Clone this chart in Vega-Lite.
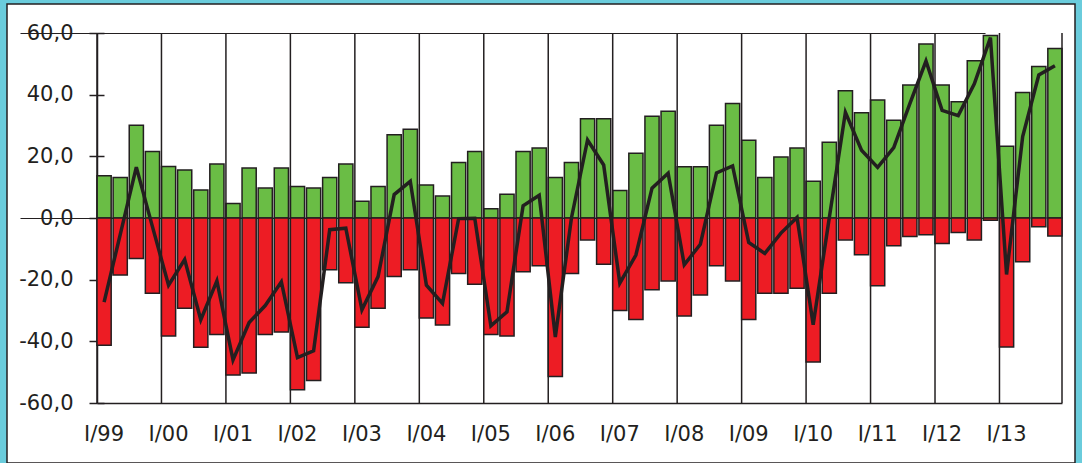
{
  "$schema": "https://vega.github.io/schema/vega-lite/v6.json",
  "width": 1068,
  "height": 459,
  "autosize": {"type": "none"},
  "padding": {"left": 7, "top": 4, "right": 7, "bottom": 0},
  "background": "#6accdc",
  "config": {
    "view": {"fill": "white", "stroke": "#231f20", "strokeWidth": 1.5},
    "axis": {
      "labelFont": "DejaVu Sans",
      "labelFontSize": 21,
      "labelColor": "#231f20",
      "domainColor": "#231f20",
      "domainWidth": 1.5,
      "tickColor": "#231f20",
      "tickWidth": 1.5
    }
  },
  "resolve": {"axis": {"x": "independent", "y": "independent"}},
  "data": {
    "values": [
      {"quarter": "I/99", "positive": 13.7, "negative": -41.3, "balance": -27.3},
      {"quarter": "II/99", "positive": 13.1, "negative": -18.5, "balance": -5.4},
      {"quarter": "III/99", "positive": 30.1, "negative": -13.1, "balance": 16.5},
      {"quarter": "IV/99", "positive": 21.6, "negative": -24.4, "balance": -2.8},
      {"quarter": "I/00", "positive": 16.7, "negative": -38.3, "balance": -21.8},
      {"quarter": "II/00", "positive": 15.6, "negative": -29.3, "balance": -13.5},
      {"quarter": "III/00", "positive": 9.1, "negative": -41.9, "balance": -33.0},
      {"quarter": "IV/00", "positive": 17.5, "negative": -37.8, "balance": -20.4},
      {"quarter": "I/01", "positive": 4.7, "negative": -50.9, "balance": -46.0},
      {"quarter": "II/01", "positive": 16.2, "negative": -50.3, "balance": -33.9},
      {"quarter": "III/01", "positive": 9.7, "negative": -37.8, "balance": -28.4},
      {"quarter": "IV/01", "positive": 16.2, "negative": -37.0, "balance": -20.7},
      {"quarter": "I/02", "positive": 10.2, "negative": -55.7, "balance": -45.3},
      {"quarter": "II/02", "positive": 9.7, "negative": -52.7, "balance": -43.1},
      {"quarter": "III/02", "positive": 13.1, "negative": -16.8, "balance": -3.8},
      {"quarter": "IV/02", "positive": 17.5, "negative": -21.0, "balance": -3.3},
      {"quarter": "I/03", "positive": 5.4, "negative": -35.4, "balance": -29.8},
      {"quarter": "II/03", "positive": 10.2, "negative": -29.3, "balance": -19.0},
      {"quarter": "III/03", "positive": 27.0, "negative": -19.0, "balance": 7.6},
      {"quarter": "IV/03", "positive": 28.8, "negative": -16.8, "balance": 11.9},
      {"quarter": "I/04", "positive": 10.7, "negative": -32.4, "balance": -21.8},
      {"quarter": "II/04", "positive": 7.1, "negative": -34.7, "balance": -27.7},
      {"quarter": "III/04", "positive": 18.0, "negative": -18.0, "balance": -0.2},
      {"quarter": "IV/04", "positive": 21.6, "negative": -21.5, "balance": -0.1},
      {"quarter": "I/05", "positive": 3.0, "negative": -37.8, "balance": -35.0},
      {"quarter": "II/05", "positive": 7.7, "negative": -38.3, "balance": -30.4},
      {"quarter": "III/05", "positive": 21.6, "negative": -17.4, "balance": 4.0},
      {"quarter": "IV/05", "positive": 22.7, "negative": -15.5, "balance": 7.4},
      {"quarter": "I/06", "positive": 13.1, "negative": -51.4, "balance": -38.6},
      {"quarter": "II/06", "positive": 18.0, "negative": -18.0, "balance": 0.0},
      {"quarter": "III/06", "positive": 32.2, "negative": -7.1, "balance": 25.3},
      {"quarter": "IV/06", "positive": 32.2, "negative": -15.0, "balance": 17.2},
      {"quarter": "I/07", "positive": 8.9, "negative": -30.0, "balance": -21.1},
      {"quarter": "II/07", "positive": 21.0, "negative": -32.9, "balance": -12.0},
      {"quarter": "III/07", "positive": 33.0, "negative": -23.3, "balance": 9.7},
      {"quarter": "IV/07", "positive": 34.6, "negative": -20.4, "balance": 14.5},
      {"quarter": "I/08", "positive": 16.6, "negative": -31.8, "balance": -15.2},
      {"quarter": "II/08", "positive": 16.6, "negative": -25.0, "balance": -8.5},
      {"quarter": "III/08", "positive": 30.1, "negative": -15.5, "balance": 14.6},
      {"quarter": "IV/08", "positive": 37.1, "negative": -20.4, "balance": 16.9},
      {"quarter": "I/09", "positive": 25.2, "negative": -32.9, "balance": -7.9},
      {"quarter": "II/09", "positive": 13.1, "negative": -24.4, "balance": -11.5},
      {"quarter": "III/09", "positive": 19.8, "negative": -24.4, "balance": -4.9},
      {"quarter": "IV/09", "positive": 22.7, "negative": -22.8, "balance": 0.2},
      {"quarter": "I/10", "positive": 11.9, "negative": -46.7, "balance": -34.6},
      {"quarter": "II/10", "positive": 24.6, "negative": -24.4, "balance": 0.1},
      {"quarter": "III/10", "positive": 41.3, "negative": -7.1, "balance": 34.3},
      {"quarter": "IV/10", "positive": 34.1, "negative": -11.9, "balance": 22.0},
      {"quarter": "I/11", "positive": 38.3, "negative": -22.0, "balance": 16.4},
      {"quarter": "II/11", "positive": 31.7, "negative": -9.0, "balance": 22.8},
      {"quarter": "III/11", "positive": 43.1, "negative": -6.0, "balance": 37.1},
      {"quarter": "IV/11", "positive": 56.4, "negative": -5.4, "balance": 50.9},
      {"quarter": "I/12", "positive": 43.1, "negative": -8.3, "balance": 34.9},
      {"quarter": "II/12", "positive": 37.7, "negative": -4.7, "balance": 33.2},
      {"quarter": "III/12", "positive": 51.0, "negative": -7.1, "balance": 43.5},
      {"quarter": "IV/12", "positive": 59.2, "negative": -0.7, "balance": 58.5},
      {"quarter": "I/13", "positive": 23.3, "negative": -41.8, "balance": -18.3},
      {"quarter": "II/13", "positive": 40.7, "negative": -14.2, "balance": 26.4},
      {"quarter": "III/13", "positive": 49.1, "negative": -2.8, "balance": 46.4},
      {"quarter": "IV/13", "positive": 55.0, "negative": -5.8, "balance": 49.4}
    ]
  },
  "layer": [
    {
      "mark": {"type": "bar", "fill": "#6abd45", "stroke": "#231f20", "strokeWidth": 1.5},
      "encoding": {
        "x": {
          "field": "quarter",
          "type": "ordinal",
          "sort": null,
          "title": null,
          "scale": {"range": [90, 1055], "paddingInner": 0.12, "paddingOuter": 0},
          "axis": {
            "orient": "bottom",
            "offset": -60,
            "values": ["I/99", "I/00", "I/01", "I/02", "I/03", "I/04", "I/05", "I/06", "I/07", "I/08", "I/09", "I/10", "I/11", "I/12", "I/13"],
            "labelOffset": 0,
            "labelAngle": 0,
            "labelPadding": 20,
            "ticks": false,
            "grid": false
          }
        },
        "y": {
          "field": "positive",
          "type": "quantitative",
          "title": null,
          "scale": {"domain": [-60, 60], "nice": false, "range": [399, 29]},
          "axis": {
            "orient": "left",
            "offset": -90,
            "values": [-60, -40, -20, 0, 20, 40, 60],
            "labelExpr": "replace(replace(format(datum.value, '.1f'), '.', ','), '\u2212', '-')",
            "tickSize": 8,
            "labelPadding": 16,
            "grid": false
          }
        }
      }
    },
    {
      "transform": [{"filter": "indexof(datum.quarter, 'I/') === 0"}],
      "mark": {"type": "rule", "stroke": "#231f20", "strokeWidth": 1.5},
      "encoding": {
        "x": {"field": "quarter", "type": "ordinal", "sort": null, "bandPosition": 0, "title": null, "axis": null},
        "y": {"datum": -60, "axis": null},
        "y2": {"datum": 60}
      }
    },
    {
      "transform": [{"filter": "datum.quarter === 'IV/13'"}],
      "mark": {"type": "rule", "stroke": "#231f20", "strokeWidth": 1.5},
      "encoding": {
        "x": {"field": "quarter", "type": "ordinal", "sort": null, "bandPosition": 1, "title": null, "axis": null},
        "y": {"datum": -60, "axis": null},
        "y2": {"datum": 60}
      }
    },
    {
      "mark": {"type": "bar", "fill": "#ed1c24", "stroke": "#231f20", "strokeWidth": 1.5},
      "encoding": {
        "x": {"field": "quarter", "type": "ordinal", "sort": null, "title": null, "axis": null},
        "y": {
          "field": "negative",
          "type": "quantitative",
          "title": null,
          "axis": {
            "orient": "left",
            "offset": -90,
            "values": [-60, -40, -20, 0, 20, 40, 60],
            "tickSize": -7,
            "labels": false,
            "domain": false,
            "grid": false
          }
        }
      }
    },
    {
      "mark": {"type": "line", "stroke": "#231f20", "strokeWidth": 3.5},
      "encoding": {
        "x": {"field": "quarter", "type": "ordinal", "sort": null, "title": null, "axis": null},
        "y": {
          "field": "balance",
          "type": "quantitative",
          "title": null,
          "axis": {
            "orient": "right",
            "values": [0, 60],
            "labels": false,
            "ticks": false,
            "domain": false,
            "grid": true,
            "gridColor": "#231f20",
            "gridWidth": 1.2,
            "gridOpacity": 1
          }
        }
      }
    }
  ]
}
